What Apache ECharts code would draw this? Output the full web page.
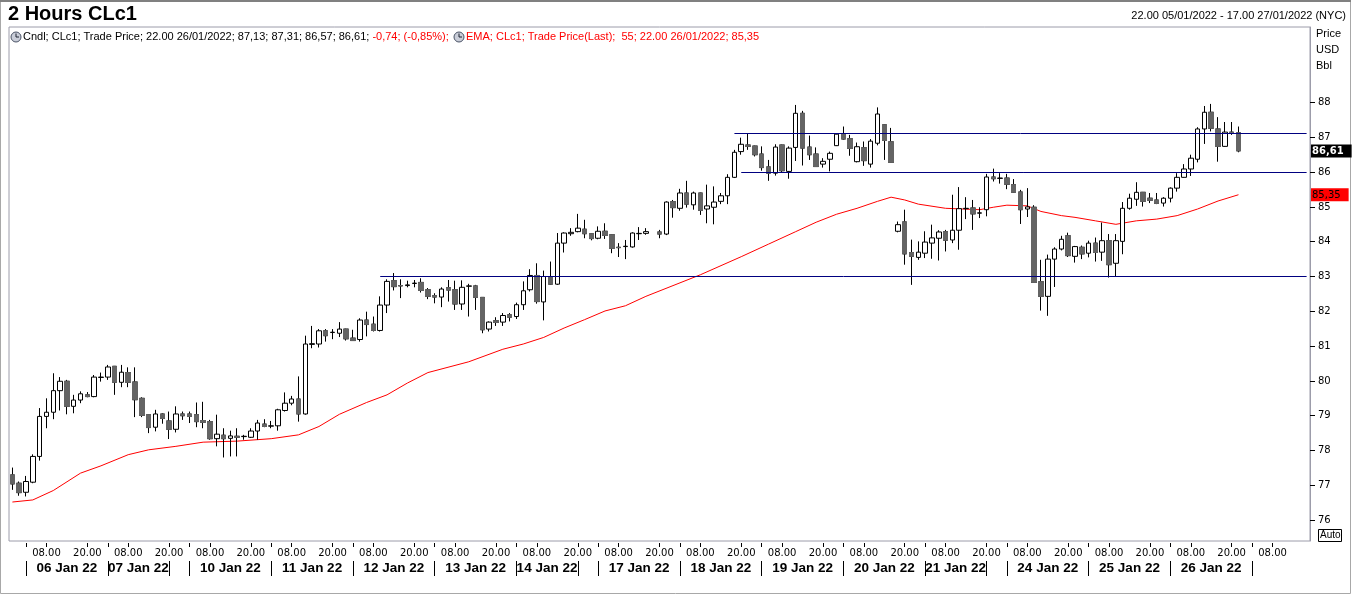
<!DOCTYPE html>
<html>
<head>
<meta charset="utf-8">
<script src="https://cdn.jsdelivr.net/npm/echarts@6/dist/echarts.min.js"></script>
<style>
html, body { margin: 0; padding: 0; background: #fff; }
#chart { width: 1352px; height: 596px; }
</style>
</head>
<body>
<div id="chart"></div>
<script>
// trading sessions (NYC time), one 2h bar every two hours
const sessions = [
    ['05/01', 22, 22], ['06/01', 0, 22], ['07/01', 0, 16], ['09/01', 18, 22],
    ['10/01', 0, 22], ['11/01', 0, 22], ['12/01', 0, 22], ['13/01', 0, 22], ['14/01', 0, 16], ['16/01', 18, 22],
    ['17/01', 0, 22], ['18/01', 0, 22], ['19/01', 0, 22], ['20/01', 0, 22], ['21/01', 0, 16], ['23/01', 18, 22],
    ['24/01', 0, 22], ['25/01', 0, 22], ['26/01', 0, 22], ['27/01', 0, 16]
];
const sundays = ['09/01', '16/01', '23/01'];
const fridays = ['07/01', '14/01', '21/01'];
const unlabelled = ['05/01', '27/01'];

// open, high, low, close per bar (null = no bar)
const ohlc = [
    [77.30, 77.51, 76.87, 77.04],
    // 06/01
    [77.06, 77.11, 76.70, 76.79], [76.80, 77.27, 76.68, 77.11], [77.09, 77.89, 77.06, 77.83], [77.83, 79.22, 77.71, 78.98],
    [78.98, 79.50, 78.64, 79.10], [79.10, 80.22, 78.90, 79.72], [79.72, 80.11, 79.15, 79.99], [79.99, 80.03, 79.04, 79.27],
    [79.27, 79.60, 79.07, 79.45], [79.45, 79.70, 79.36, 79.63], [79.60, 79.68, 79.53, 79.55], [79.55, 80.17, 79.53, 80.11],
    // 07/01
    [80.10, 80.24, 79.98, 80.11], [80.11, 80.46, 80.03, 80.40], [80.42, 80.43, 79.60, 79.96], [79.96, 80.46, 79.82, 80.25],
    [80.24, 80.39, 79.82, 79.96], [79.97, 80.39, 78.96, 79.46], [79.50, 79.53, 78.96, 79.01], [79.03, 79.04, 78.50, 78.66],
    [78.67, 79.17, 78.55, 79.05],
    // 09/01
    [79.05, 79.07, 78.77, 78.92], [78.85, 79.12, 78.33, 78.61], [78.61, 79.27, 78.52, 79.05],
    // 10/01
    [79.05, 79.12, 78.88, 79.00], [79.05, 79.12, 78.79, 78.98], [79.03, 79.38, 78.67, 78.83], [78.86, 79.40, 78.64, 78.81],
    [78.83, 78.88, 78.31, 78.34], [78.34, 79.03, 78.12, 78.47], [78.44, 78.64, 77.80, 78.34], [78.35, 78.57, 77.83, 78.42],
    [78.41, 78.64, 77.83, 78.38], [78.40, 78.45, 78.31, 78.41], [78.38, 78.64, 78.36, 78.56], [78.56, 78.88, 78.31, 78.79],
    // 11/01
    [78.76, 78.90, 78.67, 78.69], [78.70, 78.85, 78.64, 78.71], [78.71, 79.20, 78.57, 79.17], [79.15, 79.67, 79.12, 79.36],
    [79.36, 79.57, 79.30, 79.48], [79.48, 80.13, 78.83, 79.05], [79.05, 81.30, 79.03, 81.06], [81.05, 81.58, 80.94, 81.07],
    [81.06, 81.49, 80.96, 81.44], [81.44, 81.49, 81.13, 81.30], [81.39, 81.49, 81.20, 81.40], [81.37, 81.69, 81.26, 81.49],
    // 12/01
    [81.49, 81.50, 81.16, 81.21], [81.23, 81.47, 81.15, 81.16], [81.19, 81.80, 81.13, 81.75], [81.75, 81.99, 81.28, 81.62],
    [81.63, 81.85, 81.42, 81.45], [81.45, 82.43, 81.42, 82.18], [82.18, 82.92, 81.95, 82.86], [82.88, 83.10, 82.60, 82.71],
    [82.74, 82.92, 82.38, 82.73], [82.74, 82.88, 82.69, 82.76], [82.80, 82.90, 82.69, 82.81], [82.83, 82.95, 82.54, 82.60],
    // 13/01
    [82.62, 82.67, 82.35, 82.43], [82.45, 82.52, 82.23, 82.41], [82.41, 82.69, 82.12, 82.64], [82.68, 82.90, 82.28, 82.61],
    [82.62, 82.88, 82.04, 82.21], [82.21, 82.89, 82.04, 82.69], [82.72, 82.79, 81.85, 82.73], [82.73, 82.76, 82.04, 82.40],
    [82.40, 82.41, 81.37, 81.47], [81.49, 81.71, 81.42, 81.69], [81.73, 81.83, 81.58, 81.68], [81.69, 81.95, 81.58, 81.88],
    // 14/01
    [81.90, 81.95, 81.71, 81.83], [81.85, 82.25, 81.78, 82.19], [82.19, 82.86, 82.04, 82.59], [82.62, 83.21, 82.57, 83.03],
    [83.03, 83.38, 82.22, 82.28], [82.27, 83.17, 81.74, 83.00], [83.00, 83.43, 82.76, 82.78], [82.78, 84.25, 82.76, 83.96],
    [83.96, 84.27, 83.69, 84.25],
    // 16/01
    [84.23, 84.39, 84.17, 84.27], [84.29, 84.80, 84.27, 84.39], [84.36, 84.63, 84.10, 84.23],
    // 17/01
    [84.23, 84.25, 84.04, 84.09], [84.10, 84.44, 84.07, 84.30], [84.30, 84.53, 84.08, 84.18], [84.20, 84.21, 83.67, 83.81],
    [83.84, 83.96, 83.56, 83.83], [83.86, 84.05, 83.50, 83.87], [83.85, 84.27, 83.83, 84.25], [84.23, 84.42, 84.05, 84.24],
    [84.24, 84.39, 84.20, 84.29], null, [84.28, 84.34, 84.10, 84.22], [84.22, 85.16, 84.19, 85.14],
    // 18/01
    [85.15, 85.20, 84.69, 84.98], [84.96, 85.52, 84.89, 85.40], [85.40, 85.75, 84.98, 85.08], [85.06, 85.44, 84.92, 85.40],
    [85.40, 85.41, 84.77, 84.90], [84.94, 85.64, 84.53, 85.03], [84.99, 85.59, 84.50, 85.14], [85.16, 85.40, 85.08, 85.32],
    [85.32, 85.94, 85.08, 85.85], [85.85, 86.64, 85.83, 86.57], [86.59, 86.99, 86.50, 86.80], [86.78, 87.12, 86.64, 86.74],
    // 19/01
    [86.75, 86.76, 86.45, 86.50], [86.52, 86.74, 86.04, 86.13], [86.15, 86.35, 85.75, 85.97], [85.97, 86.80, 85.90, 86.72],
    [86.78, 86.79, 85.99, 86.04], [86.02, 86.74, 85.81, 86.69], [86.71, 87.93, 86.32, 87.69], [87.69, 87.76, 86.19, 86.69],
    [86.72, 87.05, 86.35, 86.50], [86.52, 86.71, 86.15, 86.16], [86.23, 86.40, 86.13, 86.31], [86.37, 86.59, 86.02, 86.54],
    // 20/01
    [86.76, 87.12, 86.75, 87.09], [87.11, 87.31, 86.93, 86.95], [86.96, 87.07, 86.47, 86.68], [86.30, 86.85, 86.28, 86.73],
    [86.70, 86.88, 86.18, 86.33], [86.23, 86.95, 86.13, 86.89], [86.83, 87.86, 86.77, 87.67], [87.36, 87.37, 86.35, 86.91],
    [86.87, 87.27, 86.27, 86.28], [84.30, 84.58, 84.27, 84.49], [84.57, 84.92, 83.34, 83.65], [83.69, 84.06, 82.76, 83.58],
    // 21/01
    [83.55, 84.01, 83.48, 83.70], [83.67, 84.30, 83.53, 83.99], [83.96, 84.49, 83.51, 84.11], [84.10, 84.33, 83.46, 84.28],
    [84.29, 84.34, 83.72, 84.04], [84.05, 85.35, 83.96, 84.33], [84.33, 85.57, 83.77, 84.95], [84.95, 85.28, 84.65, 84.96],
    [84.97, 85.20, 84.34, 84.80],
    // 23/01
    [84.82, 84.99, 84.68, 84.83], [84.92, 85.95, 84.73, 85.86], [85.86, 86.10, 85.73, 85.81],
    // 24/01
    [85.82, 85.97, 85.67, 85.83], [85.83, 85.95, 85.51, 85.65], [85.64, 85.80, 85.40, 85.42], [85.43, 85.49, 84.51, 84.92],
    [84.94, 85.54, 84.71, 85.00], [84.99, 85.05, 82.82, 82.83], [82.85, 83.48, 82.02, 82.43], [82.43, 83.63, 81.87, 83.50],
    [83.50, 83.84, 82.70, 83.79], [83.79, 84.17, 83.75, 84.07], [84.17, 84.26, 83.56, 83.60], [83.58, 83.88, 83.40, 83.86],
    // 25/01
    [83.84, 83.89, 83.50, 83.65], [83.67, 84.03, 83.55, 83.96], [83.96, 84.12, 83.43, 83.69], [83.70, 84.55, 83.45, 84.03],
    [84.03, 84.22, 82.97, 83.34], [83.38, 84.22, 83.00, 84.03], [84.01, 85.14, 83.64, 84.96], [84.96, 85.38, 84.92, 85.25],
    [85.22, 85.71, 85.03, 85.42], [85.42, 85.43, 85.01, 85.16], [85.25, 85.40, 85.11, 85.19], [85.20, 85.40, 85.08, 85.10],
    // 26/01
    [85.11, 85.28, 85.01, 85.25], [85.25, 85.56, 85.13, 85.54], [85.54, 85.97, 85.44, 85.85], [85.85, 86.23, 85.84, 86.09],
    [86.09, 86.50, 85.89, 86.40], [86.37, 87.29, 86.28, 87.24], [87.24, 87.90, 86.81, 87.72], [87.72, 87.96, 87.17, 87.26],
    [87.24, 87.58, 86.30, 86.74], [86.74, 87.44, 86.73, 87.15], [87.15, 87.44, 87.07, 87.12], [87.13, 87.31, 86.57, 86.61]
];

// EMA(55): [bar index, value]
const emaPoints = [
    [0, 76.52], [3, 76.58], [6, 76.85], [10, 77.35], [13, 77.56], [17, 77.88], [20, 78.02], [24, 78.12],
    [28, 78.24], [33, 78.27], [38, 78.34], [42, 78.45], [45, 78.69], [48, 79.04], [52, 79.38], [55, 79.60],
    [58, 79.94], [61, 80.24], [67, 80.55], [72, 80.91], [75, 81.06], [78, 81.25], [81, 81.52], [84, 81.76],
    [87, 82.01], [90, 82.16], [93, 82.43], [101, 83.05], [107, 83.57], [111, 83.93], [115, 84.29], [118, 84.56],
    [121, 84.79], [124, 84.96], [127, 85.16], [129, 85.28], [131, 85.20], [133, 85.08], [137, 84.96], [142, 84.92],
    [144, 84.99], [146, 85.05], [149, 85.03], [151, 84.87], [154, 84.75], [156, 84.70], [159, 84.60], [162, 84.50],
    [165, 84.60], [168, 84.65], [171, 84.75], [174, 84.94], [177, 85.17], [180, 85.35]
];

// horizontal trend lines: value and first bar
const levelValues = [87.12, 86.00, 83.01];
const levelStarts = [106, 107, 54];

const yTicks = [76, 77, 78, 79, 80, 81, 82, 83, 84, 85, 86, 87, 88];
const lastChange = -0.74;
const lastChangePct = -0.85;

const times = [];
sessions.forEach(([d, h0, h1]) => {
    for (let h = h0; h <= h1; h += 2) times.push(d + ' ' + String(h).padStart(2, '0'));
});
times.push('');

const dayOf = t => t.slice(0, 5);
const hourOf = t => t.slice(6);
const fmt = v => v.toFixed(2).replace('.', ',');

const last = ohlc[ohlc.length - 1];
const lastEma = emaPoints[emaPoints.length - 1][1];
const lastIdx = times.length - 1;

const chartDom = document.getElementById('chart');
const myChart = echarts.init(chartDom, null, { renderer: 'canvas' });

const labelFont = 'DejaVu Sans';

const option = {
    animation: false,
    backgroundColor: '#fff',
    grid: {
        left: 9, right: 42, top: 27, bottom: 55,
        show: true, borderColor: '#9c9caa', borderWidth: 1, backgroundColor: '#fff',
        containLabel: false, outerBoundsMode: 'none'
    },
    xAxis: [{
        type: 'category', data: times, boundaryGap: true, position: 'bottom', offset: 2,
        axisLine: { show: false },
        axisTick: {
            show: true, alignWithLabel: true, length: 4, lineStyle: { color: '#000' },
            interval: (i, t) => ['02', '08', '20'].includes(hourOf(t))
        },
        axisLabel: {
            interval: (i, t) => ['08', '20'].includes(hourOf(t)),
            formatter: t => hourOf(t) + '.00',
            fontFamily: labelFont, fontSize: 10, color: '#000', margin: 5
        },
        splitLine: { show: false }
    }, {
        type: 'category', data: times, boundaryGap: true, position: 'bottom', offset: 20,
        axisLine: { show: false },
        axisTick: {
            show: true, alignWithLabel: true, length: 15, lineStyle: { color: '#000' },
            interval: (i, t) => t !== '' && (hourOf(t) === '02' || (sundays.includes(dayOf(t)) && hourOf(t) === '20'))
        },
        axisLabel: {
            interval: (i, t) => {
                if (!t || unlabelled.includes(dayOf(t)) || sundays.includes(dayOf(t))) return false;
                return hourOf(t) === (fridays.includes(dayOf(t)) ? '12' : '14');
            },
            formatter: t => {
                const txt = t.slice(0, 2) + ' Jan 22';
                return fridays.includes(dayOf(t)) ? '{f|' + txt + '}' : '{d|' + txt + '}';
            },
            rich: {
                d: { fontFamily: 'Liberation Sans', fontWeight: 'bold', fontSize: 13.5, color: '#000' },
                f: { fontFamily: 'Liberation Sans', fontWeight: 'bold', fontSize: 13.5, color: '#000', padding: [0, 7, 0, 0] }
            },
            margin: 0
        },
        splitLine: { show: false }
    }],
    yAxis: {
        type: 'value', position: 'right', min: 75.4, max: 90.17,
        axisLine: { show: true, lineStyle: { color: '#9c9caa' } },
        axisTick: { show: true, length: 5, lineStyle: { color: '#000' }, customValues: yTicks },
        axisLabel: {
            customValues: yTicks.concat([last[3], lastEma]),
            margin: 1,
            formatter: v => {
                if (Math.abs(v - last[3]) < 1e-6) return '{k|' + fmt(v) + '}';
                if (Math.abs(v - lastEma) < 1e-6) return '{e|' + fmt(v) + '}';
                return '{t|' + v + '}';
            },
            rich: {
                t: { fontFamily: labelFont, fontSize: 10, color: '#000', padding: [0, 0, 0, 7] },
                k: { fontFamily: labelFont, fontSize: 10, fontWeight: 'bold', color: '#fff', backgroundColor: '#000', padding: [2, 8, 1, 1], lineHeight: 12 },
                e: { fontFamily: labelFont, fontSize: 10, color: '#000', backgroundColor: '#ff0000', padding: [2, 8, 1, 1], lineHeight: 12 }
            }
        },
        splitLine: { show: false }
    },
    series: [{
        name: 'EMA', type: 'line', data: emaPoints, symbol: 'none', showSymbol: false,
        lineStyle: { color: '#ff0000', width: 1 }, z: 1, silent: true
    }, {
        name: 'Cndl', type: 'candlestick', barWidth: 5,
        data: ohlc.map(r => r ? [r[0], r[3], r[2], r[1]] : '-'),
        itemStyle: { color: '#ffffff', color0: '#646464', borderColor: '#000', borderColor0: '#000', borderWidth: 1 },
        markLine: {
            silent: true, symbol: ['none', 'none'], label: { show: false },
            lineStyle: { color: '#000080', width: 1, type: 'solid' },
            data: levelValues.map((v, i) => [{ coord: [levelStarts[i], v] }, { coord: [lastIdx, v] }])
        },
        z: 3
    }, {
        // bodies of falling bars drawn again so their outline stays grey while wicks stay black
        name: 'body', type: 'candlestick', barWidth: 5, silent: true,
        data: ohlc.map(r => r && r[3] < r[0] ? [r[0], r[3], r[3], r[0]] : '-'),
        itemStyle: { color: '#646464', color0: '#646464', borderColor: '#646464', borderColor0: '#646464', borderWidth: 1 },
        z: 4
    }],
    graphic: [
        { type: 'rect', shape: { x: 0.5, y: 0.5, width: 1350, height: 593 }, style: { fill: 'none', stroke: '#a8a8a8', lineWidth: 1 }, z: 0 },
        { type: 'line', shape: { x1: 0, y1: 1, x2: 1351, y2: 1 }, style: { stroke: '#808080', lineWidth: 2 } },
        { type: 'text', left: 8, top: 4, style: { text: '2 Hours CLc1', font: 'bold 20px "Liberation Sans"', fill: '#000' } },
        { type: 'text', right: 6, top: 10, style: { text: '22.00 05/01/2022 - 17.00 27/01/2022 (NYC)', font: '11px "Liberation Sans"', fill: '#000' } },
        { type: 'text', left: 1316, top: 28, style: { text: 'Price', font: '11px "Liberation Sans"', fill: '#000' } },
        { type: 'text', left: 1316, top: 44, style: { text: 'USD', font: '11px "Liberation Sans"', fill: '#000' } },
        { type: 'text', left: 1316, top: 60, style: { text: 'Bbl', font: '11px "Liberation Sans"', fill: '#000' } },
        { type: 'circle', shape: { cx: 16, cy: 37, r: 5 }, style: { fill: '#c9cdd8', stroke: '#4a5366', lineWidth: 1 }, z: 10 },
        { type: 'polyline', shape: { points: [[16, 33.5], [16, 37], [19, 37]] }, style: { stroke: '#1d2230', lineWidth: 1, fill: 'none' }, z: 11 },
        {
            type: 'text', left: 23, top: 31, z: 10,
            style: {
                text: '{a|Cndl; CLc1; Trade Price; 22.00 26/01/2022; ' + fmt(last[0]) + '; ' + fmt(last[1]) + '; ' + fmt(last[2]) + '; ' + fmt(last[3]) + '; }' +
                      '{b|' + fmt(lastChange) + '; (' + fmt(lastChangePct) + '%);}',
                rich: {
                    a: { fill: '#000', font: '11px "Liberation Sans"' },
                    b: { fill: '#ff0000', font: '11px "Liberation Sans"' }
                }
            }
        },
        { type: 'circle', shape: { cx: 459, cy: 37, r: 5 }, style: { fill: '#c9cdd8', stroke: '#4a5366', lineWidth: 1 }, z: 10 },
        { type: 'polyline', shape: { points: [[459, 33.5], [459, 37], [462, 37]] }, style: { stroke: '#1d2230', lineWidth: 1, fill: 'none' }, z: 11 },
        {
            type: 'text', left: 466, top: 31, z: 10,
            style: { text: 'EMA; CLc1; Trade Price(Last);  55; 22.00 26/01/2022; ' + fmt(lastEma), font: '11px "Liberation Sans"', fill: '#ff0000' }
        },
        { type: 'rect', shape: { x: 1318.5, y: 529.5, width: 23, height: 12 }, style: { fill: '#fff', stroke: '#000', lineWidth: 1 } },
        { type: 'text', left: 1320, top: 530, style: { text: 'Auto', font: '10px "Liberation Sans"', fill: '#000' } }
    ]
};
myChart.setOption(option);
</script>
</body>
</html>
